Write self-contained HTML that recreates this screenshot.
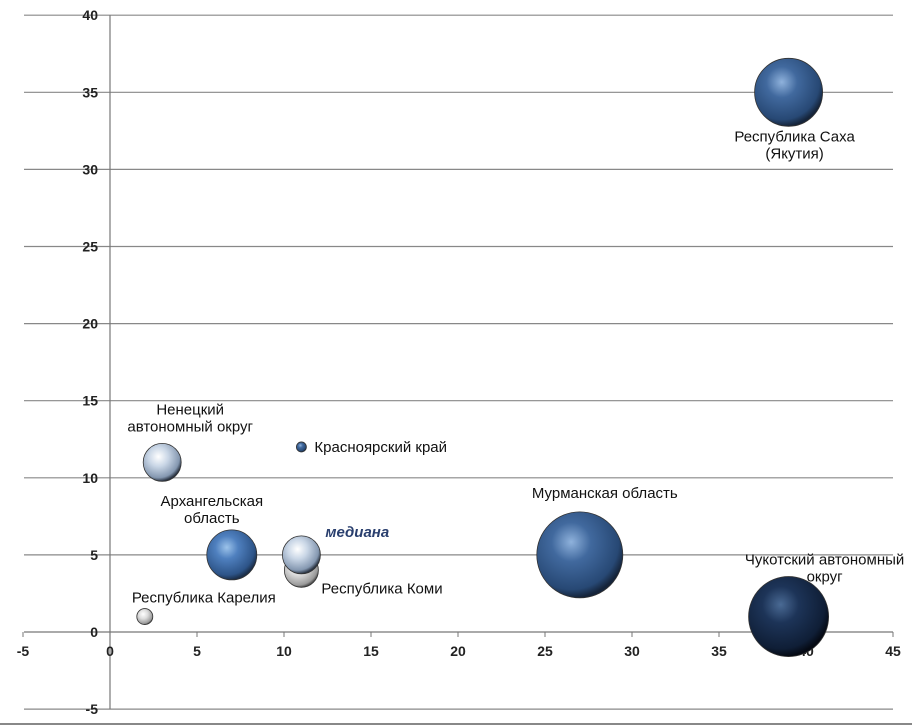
<!DOCTYPE html>
<html><head><meta charset="utf-8"><style>
html,body{margin:0;padding:0;background:#fff;}
svg{display:block;font-family:"Liberation Sans",sans-serif;}
</style></head><body>
<svg id="chart" width="912" height="726" viewBox="0 0 912 726">
<defs>
<radialGradient id="gBlue" cx="40%" cy="35%" r="65%"><stop offset="0" stop-color="#9cc3ea"/><stop offset="0.35" stop-color="#4f80bf"/><stop offset="0.85" stop-color="#2d5488"/><stop offset="1" stop-color="#1c2f4a"/></radialGradient>
<radialGradient id="gMid" cx="40%" cy="35%" r="65%"><stop offset="0" stop-color="#8fb2dc"/><stop offset="0.35" stop-color="#41699e"/><stop offset="0.85" stop-color="#274874"/><stop offset="1" stop-color="#15243a"/></radialGradient>
<radialGradient id="gDark" cx="40%" cy="35%" r="65%"><stop offset="0" stop-color="#4a6a94"/><stop offset="0.35" stop-color="#1d3458"/><stop offset="0.85" stop-color="#0f1e36"/><stop offset="1" stop-color="#050a14"/></radialGradient>
<radialGradient id="gLight" cx="40%" cy="35%" r="65%"><stop offset="0" stop-color="#ffffff"/><stop offset="0.4" stop-color="#c9d6e6"/><stop offset="0.85" stop-color="#8497b0"/><stop offset="1" stop-color="#2a3443"/></radialGradient>
<radialGradient id="gGrey" cx="40%" cy="35%" r="65%"><stop offset="0" stop-color="#ffffff"/><stop offset="0.45" stop-color="#dcdcdc"/><stop offset="0.9" stop-color="#9a9a9a"/><stop offset="1" stop-color="#555"/></radialGradient>
</defs>
<g id="grid"></g>
<g id="bubbles"></g>
<g id="labels"></g>
<line x1="0" y1="724" x2="912" y2="724" stroke="#888" stroke-width="2"/>
</svg>
<script>
const names = ["Республика Саха (Якутия)","Ненецкий автономный округ","Красноярский край","Архангельская область","медиана","Республика Коми","Республика Карелия","Мурманская область","Чукотский автономный округ"];
const xVals = [39, 3, 11, 7, 11, 11, 2, 27, 39];
const yVals = [35, 11, 12, 5, 5, 4, 1, 5, 1];
const sizes = [34, 19, 5, 25, 19, 17, 8, 43, 40];
const xTicks = [-5,0,5,10,15,20,25,30,35,40,45];
const yTicks = [-5,0,5,10,15,20,25,30,35,40];

const NS="http://www.w3.org/2000/svg";
function xs(v){return 110 + v*87/5;}
function ys(v){return 632 - v*77.1/5;}
function mk(tag,attrs,parent,text){const e=document.createElementNS(NS,tag);for(const k in attrs)e.setAttribute(k,attrs[k]);if(text!==undefined)e.textContent=text;parent.appendChild(e);return e;}
const grid=document.getElementById('grid');
yTicks.forEach(t=>{
  const l=mk('line',{x1:24,x2:893,y1:ys(t),y2:ys(t),stroke:t===0?'#777':'#888','stroke-width':1.2},grid);
  
  
  const tx=mk('text',{x:98,y:ys(t)+5,'text-anchor':'end','font-size':14,'font-weight':'bold',fill:'#222'},grid,String(t));
  
  
});
const ya=mk('line',{x1:xs(0),x2:xs(0),y1:ys(40),y2:ys(-5),stroke:'#777','stroke-width':1.2},grid);


xTicks.forEach(t=>{
  const tk=mk('line',{x1:xs(t),x2:xs(t),y1:ys(0),y2:ys(0)+5,stroke:'#777'},grid);
  
  
  const tx=mk('text',{x:xs(t),y:ys(0)+24,'text-anchor':'middle','font-size':14,'font-weight':'bold',fill:'#222'},grid,String(t));
  
  
});
const fills=['url(#gMid)','url(#gLight)','url(#gMid)','url(#gBlue)','url(#gLight)','url(#gGrey)','url(#gGrey)','url(#gMid)','url(#gDark)'];
const order=[0,1,2,3,5,4,6,7,8];
const bg=document.getElementById('bubbles');
order.forEach(i=>{
  const c=mk('circle',{cx:xs(xVals[i]),cy:ys(yVals[i]),r:sizes[i],fill:fills[i],stroke:'#333','stroke-width':0.8},bg);
  
  
});
const lab=[
 [["Республика Саха","(Якутия)"],6,49,'middle'],
 [["Ненецкий","автономный округ"],28,-48,'middle'],
 [["Красноярский край"],13,5,'start'],
 [["Архангельская","область"],-20,-49,'middle'],
 [["медиана"],24,-18,'start','med'],
 [["Республика Коми"],20,23,'start'],
 [["Республика Карелия"],59,-14,'middle'],
 [["Мурманская область"],25,-57,'middle'],
 [["Чукотский автономный","округ"],36,-52,'middle']
];
const lg=document.getElementById('labels');
lab.forEach((L,i)=>{
  const x=xs(xVals[i])+L[1], y=ys(yVals[i])+L[2];
  const t=mk('text',{x:x,y:y,'text-anchor':L[3],'font-size':15,fill:L[4]?'#2a3f6e':'#111','font-weight':L[4]?'bold':'normal','font-style':L[4]?'italic':'normal'},lg);
  
  
  L[0].forEach((s,k)=>{mk('tspan',{x:x,dy:k?17:0},t,s);});
});
</script>
</body></html>
